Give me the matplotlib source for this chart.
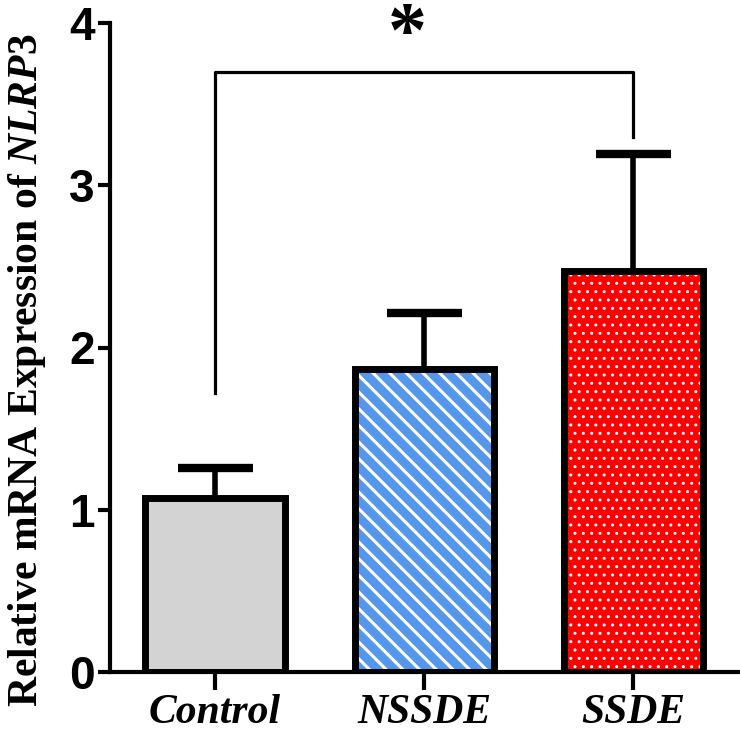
import numpy as np
import matplotlib
matplotlib.use("Agg")
import matplotlib.pyplot as plt
from matplotlib import font_manager

groups = ["Control", "NSSDE", "SSDE"]
means = [1.07, 1.87, 2.47]
errs = [0.19, 0.34, 0.72]
face_colors = ["#D3D3D3", "#5597EB", "#FF0000"]
hatches = [None, "\\\\", ".."]
yticks = [0, 1, 2, 3, 4]

# significance bracket between Control and SSDE
sig_pair = (0, 2)
sig_top = 3.70
sig_bottoms = (1.72, 3.30)
sig_text = "*"


def pick_font(names):
    for n in names:
        try:
            font_manager.findfont(n, fallback_to_default=False)
            return n
        except Exception:
            pass
    return "DejaVu Sans"


tick_font = pick_font(["Liberation Sans Narrow", "Liberation Sans"])
serif = "Liberation Serif"

plt.rcParams["mathtext.fontset"] = "custom"
plt.rcParams["mathtext.rm"] = "Liberation Serif:bold"
plt.rcParams["mathtext.it"] = "Liberation Serif:italic:bold"

fig = plt.figure(figsize=(7.4, 7.38), dpi=100)
ax = fig.add_axes([110 / 740, 66 / 738, 630 / 740, 649 / 738])

x = np.arange(len(groups))
width = 0.665

# fill + hatch first (hatch colour follows edgecolor), then black outline
for i in range(len(groups)):
    plt.rcParams["hatch.linewidth"] = 2.2 if hatches[i] == "\\\\" else 1.0
    b = ax.bar(x[i], means[i], width, color=face_colors[i], edgecolor="white",
               linewidth=0, hatch=hatches[i], zorder=2)
    for p in b:
        if hasattr(p, "set_hatch_linewidth"):
            p.set_hatch_linewidth(plt.rcParams["hatch.linewidth"])

ax.bar(x, means, width, fill=False, edgecolor="black", linewidth=5, zorder=3)

eb = ax.errorbar(x, means, yerr=[np.zeros(len(errs)), errs], fmt="none",
                 ecolor="black", elinewidth=4, capsize=27, capthick=6, zorder=1)
eb[1][0].set_visible(False)

# bracket
xa, xb = x[sig_pair[0]], x[sig_pair[1]]
ax.plot([xa, xa, xb, xb], [sig_bottoms[0], sig_top, sig_top, sig_bottoms[1]],
        color="black", linewidth=2.3, clip_on=False, zorder=4)
ax.text((xa + xb) / 2 - 0.08, 3.80, sig_text, ha="center", va="baseline",
        fontsize=56, fontweight="bold", family=serif, clip_on=False)

ax.set_xlim(-0.502, 2.51)
ax.set_ylim(0, 4)
ax.set_yticks(yticks)
ax.set_yticklabels([str(t) for t in yticks], fontsize=33, fontweight="bold",
                   family=tick_font)
ax.set_xticks(x)
ax.set_xticklabels(groups, fontsize=30, fontweight="bold", style="italic",
                   family=serif)

for s in ["top", "right"]:
    ax.spines[s].set_visible(False)
for s in ["left", "bottom"]:
    ax.spines[s].set_linewidth(3)
ax.tick_params(axis="y", length=9, width=3, pad=2)
ax.tick_params(axis="x", length=13, width=3, pad=3)

ax.set_ylabel(r"Relative mRNA Expression of $\mathit{NLRP3}$", fontsize=30,
              fontweight="bold", family=serif)
ax.yaxis.set_label_coords(-0.098, 0.465)

fig.savefig("out.png", dpi=100)
